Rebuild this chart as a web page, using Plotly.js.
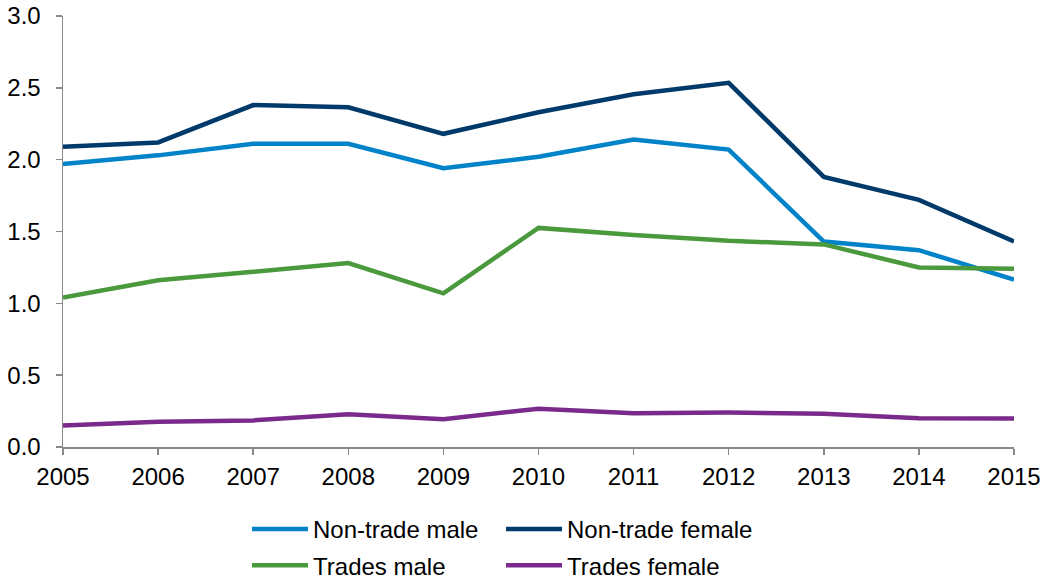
<!DOCTYPE html>
<html>
<head>
<meta charset="utf-8">
<script src="https://cdn.plot.ly/plotly-3.0.1.min.js"></script>
<style>
html,body{margin:0;padding:0;background:#fff;}
#chart{width:1040px;height:579px;}
</style>
</head>
<body>
<div id="chart"></div>
<script>
const years = [2005, 2006, 2007, 2008, 2009, 2010, 2011, 2012, 2013, 2014, 2015];
const nonTradeMale = [1.97, 2.03, 2.11, 2.11, 1.94, 2.02, 2.14, 2.07, 1.43, 1.37, 1.165];
const nonTradeFemale = [2.09, 2.12, 2.38, 2.365, 2.18, 2.33, 2.455, 2.535, 1.88, 1.72, 1.43];
const tradesMale = [1.04, 1.16, 1.22, 1.28, 1.07, 1.525, 1.475, 1.435, 1.41, 1.25, 1.24];
const tradesFemale = [0.15, 0.175, 0.185, 0.228, 0.193, 0.267, 0.235, 0.24, 0.232, 0.2, 0.198];

const FONT = 'Liberation Sans, Arial, sans-serif';

const mk = (y, name, color, legend) => ({
  x: years, y: y, name: name, type: 'scatter', mode: 'lines',
  line: {color: color, width: 4.5}, legend: legend, legendgroup: name
});

const traces = [
  mk(nonTradeMale, 'Non-trade male', '#0083C8', 'legend'),
  mk(tradesMale, 'Trades male', '#4A9A3D', 'legend'),
  mk(nonTradeFemale, 'Non-trade female', '#003A6B', 'legend2'),
  mk(tradesFemale, 'Trades female', '#7A2A8B', 'legend2')
];

const legendBase = {
  orientation: 'v', yanchor: 'top', xanchor: 'left', y: -0.139,
  font: {family: FONT, size: 24, color: '#000'},
  bgcolor: 'rgba(0,0,0,0)', tracegroupgap: 2, itemwidth: 56
};

const layout = {
  width: 1040, height: 579,
  margin: {l: 63, r: 26, t: 16, b: 132, autoexpand: false},
  paper_bgcolor: '#fff', plot_bgcolor: '#fff',
  font: {family: FONT, size: 24, color: '#000'},
  showlegend: true,
  xaxis: {
    range: [2005, 2015], tickmode: 'linear', tick0: 2005, dtick: 1,
    showgrid: false, zeroline: false, showline: true, linecolor: '#898989', linewidth: 1.5,
    ticks: 'outside', ticklen: 6, tickcolor: '#898989', tickwidth: 1.5,
    tickfont: {family: FONT, size: 24, color: '#000'}, ticklabelstandoff: 2,
    ticklabeloverflow: 'allow'
  },
  yaxis: {
    range: [0, 3], tickmode: 'linear', tick0: 0, dtick: 0.5, tickformat: '.1f',
    showgrid: false, zeroline: false, showline: true, linecolor: '#898989', linewidth: 1.5,
    ticks: 'outside', ticklen: 6, tickcolor: '#898989', tickwidth: 1.5,
    tickfont: {family: FONT, size: 24, color: '#000'}, ticklabelstandoff: 10,
    ticklabeloverflow: 'allow'
  },
  legend: Object.assign({}, legendBase, {x: 0.1935}),
  legend2: Object.assign({}, legendBase, {x: 0.4606})
};

Plotly.newPlot('chart', traces, layout, {displayModeBar: false, staticPlot: true});
</script>
</body>
</html>
